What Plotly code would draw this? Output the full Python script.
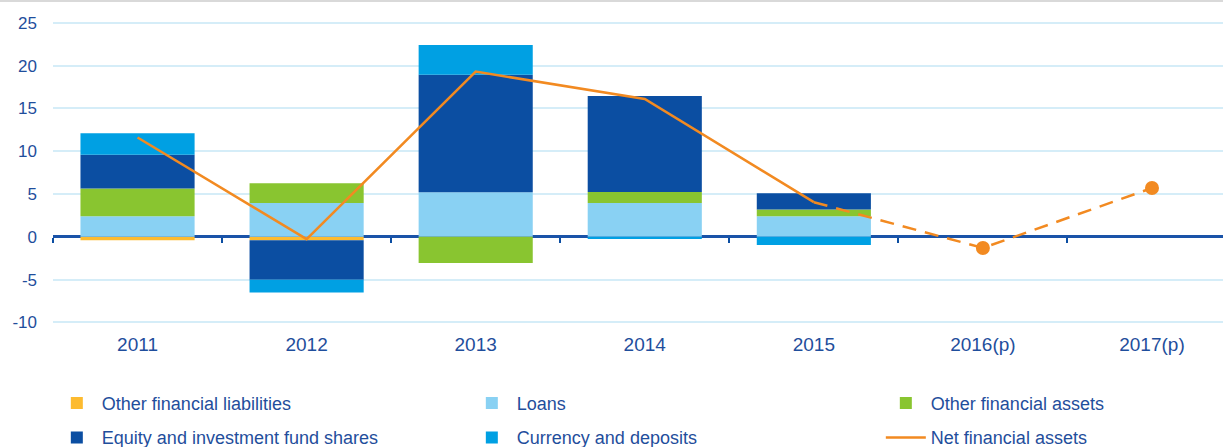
import plotly.graph_objects as go

years = ["2011", "2012", "2013", "2014", "2015", "2016(p)", "2017(p)"]
other_fin_liab = [-0.4, -0.4, 0.0, 0.0, 0.0, None, None]
loans = [2.4, 3.95, 5.2, 3.95, 2.4, None, None]
other_fin_assets = [3.25, 2.3, -3.05, 1.3, 0.8, None, None]
equity = [3.95, -4.6, 13.75, 11.2, 1.9, None, None]
currency = [2.5, -1.5, 3.45, -0.25, -0.95, None, None]
net_actual = [11.6, -0.27, 19.3, 16.1, 4.05, None, None]
net_projected = [None, None, None, None, 4.05, -1.3, 5.7]
net_projected_points = [None, None, None, None, None, -1.3, 5.7]
y_tickvals = [-10, -5, 0, 5, 10, 15, 20, 25]
y_ticktext = ["-10", "-5", "0", "5", "10", "15", "20", "25"]

TXT = "#1f4e9c"
ORANGE = "#f28a21"
FONT = "Liberation Sans, Arial, sans-serif"

fig = go.Figure()
bar_specs = [
    ("Other financial liabilities", other_fin_liab, "#fdbb2f", "legend"),
    ("Loans", loans, "#89d1f3", "legend2"),
    ("Other financial assets", other_fin_assets, "#89c530", "legend3"),
    ("Equity and investment fund shares", equity, "#0b4ea2", "legend"),
    ("Currency and deposits", currency, "#00a0e3", "legend2"),
]
for i, (name, vals, col, lg) in enumerate(bar_specs):
    fig.add_trace(go.Bar(x=years, y=vals, name=name, marker=dict(color=col, line=dict(width=0)),
                         width=0.675, legend=lg, legendgroup="g%d" % i))

fig.add_trace(go.Scatter(x=years, y=net_actual, name="Net financial assets", mode="lines",
                         line=dict(color=ORANGE, width=2.5), legend="legend3",
                         legendgroup="g9"))
fig.add_trace(go.Scatter(x=years, y=net_projected, name="Net financial assets", mode="lines",
                         line=dict(color=ORANGE, width=2.5, dash="14px,9px"),
                         showlegend=False, legend="legend3", legendgroup="g9"))
fig.add_trace(go.Scatter(x=years, y=net_projected_points, name="Net financial assets",
                         mode="markers", marker=dict(size=14, color=ORANGE, opacity=1,
                                                     line=dict(width=0)),
                         showlegend=False, legend="legend3", legendgroup="g9"))
# helper trace for the tick axis at zero
fig.add_trace(go.Scatter(x=years, y=[None] * len(years), xaxis="x2", showlegend=False,
                         hoverinfo="skip"))

ymin, ymax = -10.3, 26.5
leg_common = dict(orientation="v", xanchor="left", y=-0.19, yanchor="top",
                  font=dict(size=18, color=TXT), itemwidth=40, tracegroupgap=8,
                  bgcolor="rgba(0,0,0,0)", traceorder="grouped")
fig.update_layout(
    width=1223, height=447,
    margin=dict(l=53, r=0, t=10, b=122, autoexpand=False),
    barmode="relative",
    plot_bgcolor="white", paper_bgcolor="white",
    font=dict(family=FONT, size=18, color=TXT),
    xaxis=dict(type="category", range=[-0.5, 6.42], showline=False, ticks="",
               showgrid=False, tickfont=dict(size=19, color=TXT), ticklabelstandoff=6),
    xaxis2=dict(type="category", overlaying="x", matches="x", anchor="free",
                position=(0 - ymin) / (ymax - ymin), side="bottom", showline=False,
                showgrid=False, ticks="outside", tickson="boundaries", ticklen=5, tickwidth=2,
                tickcolor="#0b4ea2", showticklabels=False),
    yaxis=dict(range=[ymin, ymax], tickvals=y_tickvals, ticktext=y_ticktext,
               gridcolor="#d5edf8", gridwidth=1.5, zeroline=True, zerolinecolor="#1a53a8",
               zerolinewidth=2.5, showline=False, ticks="", ticklabelstandoff=15,
               tickfont=dict(size=17, color=TXT)),
    legend=dict(x=-0.001, **leg_common),
    legend2=dict(x=-0.001 + 415 / 1170, **leg_common),
    legend3=dict(x=-0.001 + 829 / 1170, **leg_common),
    shapes=[dict(type="line", xref="paper", yref="paper", x0=-0.05, x1=1.0,
                 y0=1.0286, y1=1.0286, line=dict(color="#d9d9d9", width=2))],
    showlegend=True,
)

fig.write_html("out.html", config={"displayModeBar": False},
               post_script="document.body.style.margin='0';")
